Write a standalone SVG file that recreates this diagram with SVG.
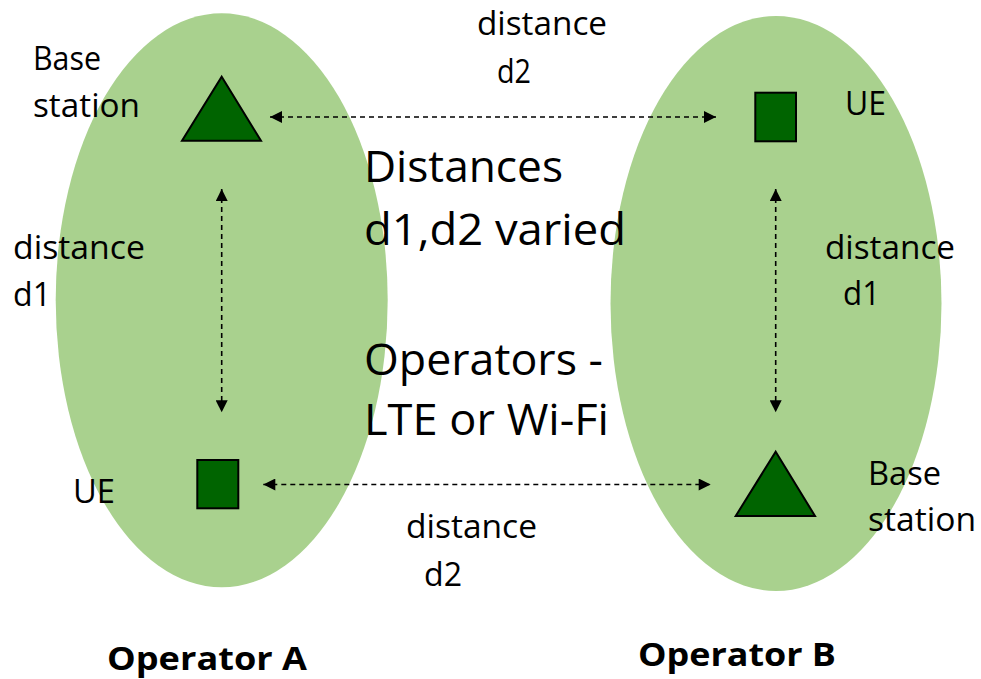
<svg xmlns="http://www.w3.org/2000/svg" width="981" height="679" viewBox="0 0 981 679">
<style>
.bg{fill:#A9D18E;stroke:none}
.shape{fill:#006400;stroke:#000;stroke-width:2;stroke-linejoin:miter}
.conn{stroke:#000;stroke-width:1.6;stroke-dasharray:5 4;fill:none;marker-start:url(#ah);marker-end:url(#ah)}
.t{font-family:"Open Sans","Liberation Sans",sans-serif;fill:#000}
.s{font-size:32px}
.b{font-size:44px}
.l{font-size:33px;font-weight:bold}
</style>
<defs>
<marker id="ah" viewBox="0 0 10 10" refX="10" refY="5" markerWidth="13" markerHeight="12" markerUnits="userSpaceOnUse" orient="auto-start-reverse">
<path d="M0,0 L10,5 L0,10 z" fill="#000"/>
</marker>
</defs>
<rect width="981" height="679" fill="#fff"/>
<g id="operatorA">
<ellipse class="bg" cx="221.7" cy="300.3" rx="166" ry="287"/>
<text class="t l" x="107" y="670" textLength="200" lengthAdjust="spacingAndGlyphs">Operator A</text>
</g>
<g id="operatorB">
<ellipse class="bg" cx="776" cy="303.5" rx="165.5" ry="287.5"/>
<text class="t l" x="638" y="666" textLength="198" lengthAdjust="spacingAndGlyphs">Operator B</text>
</g>
<g id="connectors">
<line class="conn" x1="270" y1="117" x2="716" y2="117"/>
<line class="conn" x1="221.7" y1="189" x2="221.7" y2="412.3"/>
<line class="conn" x1="263.3" y1="484.5" x2="710.7" y2="484.5"/>
<line class="conn" x1="775.7" y1="189" x2="775.7" y2="412.3"/>
</g>
<g id="bsA">
<polygon class="shape" points="221.7,76.7 261,140.7 182,140.7"/>
<text class="t s" x="33" y="69.5" textLength="68" lengthAdjust="spacingAndGlyphs">Base</text>
<text class="t s" x="33" y="117" textLength="107" lengthAdjust="spacingAndGlyphs">station</text>
</g>
<g id="ueA">
<rect class="shape" x="197.3" y="460" width="41" height="48.3"/>
<text class="t s" x="73" y="503" textLength="42" lengthAdjust="spacingAndGlyphs">UE</text>
</g>
<g id="ueB">
<rect class="shape" x="755.3" y="92.7" width="40.7" height="48.6"/>
<text class="t s" x="845" y="115" textLength="41" lengthAdjust="spacingAndGlyphs">UE</text>
</g>
<g id="bsB">
<polygon class="shape" points="775.7,451.7 815,516 735.7,516"/>
<text class="t s" x="868" y="485" textLength="73" lengthAdjust="spacingAndGlyphs">Base</text>
<text class="t s" x="868" y="531" textLength="108" lengthAdjust="spacingAndGlyphs">station</text>
</g>
<g id="labels">
<text class="t s" x="477" y="35" textLength="130" lengthAdjust="spacingAndGlyphs">distance</text>
<text class="t s" x="497" y="83" textLength="34" lengthAdjust="spacingAndGlyphs">d2</text>
<text class="t s" x="13" y="259" textLength="132" lengthAdjust="spacingAndGlyphs">distance</text>
<text class="t s" x="13" y="306" textLength="38" lengthAdjust="spacingAndGlyphs">d1</text>
<text class="t s" x="825" y="259" textLength="130" lengthAdjust="spacingAndGlyphs">distance</text>
<text class="t s" x="843" y="305" textLength="37" lengthAdjust="spacingAndGlyphs">d1</text>
<text class="t s" x="406" y="538" textLength="131" lengthAdjust="spacingAndGlyphs">distance</text>
<text class="t s" x="424" y="586" textLength="38" lengthAdjust="spacingAndGlyphs">d2</text>
<text class="t b" x="364" y="182" textLength="199" lengthAdjust="spacingAndGlyphs">Distances</text>
<text class="t b" x="364" y="245" textLength="262" lengthAdjust="spacingAndGlyphs">d1,d2 varied</text>
<text class="t b" x="364" y="375" textLength="239" lengthAdjust="spacingAndGlyphs">Operators -</text>
<text class="t b" x="364" y="435" textLength="245" lengthAdjust="spacingAndGlyphs">LTE or Wi-Fi</text>
</g>
</svg>
